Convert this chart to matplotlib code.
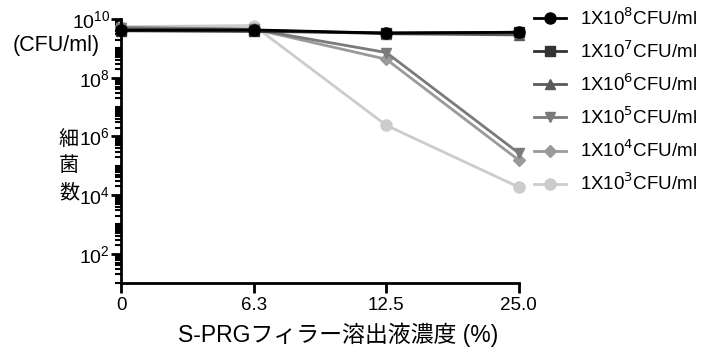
import numpy as np
import matplotlib.pyplot as plt
from matplotlib.ticker import LogLocator, FixedLocator, NullFormatter

plt.rcParams['font.family'] = ['Liberation Sans', 'Noto Sans CJK JP', 'DejaVu Sans']

concentrations = ['0', '6.3', '12.5', '25.0']
series_labels = ['1X10$^{8}$CFU/ml', '1X10$^{7}$CFU/ml', '1X10$^{6}$CFU/ml',
                 '1X10$^{5}$CFU/ml', '1X10$^{4}$CFU/ml', '1X10$^{3}$CFU/ml']
# log10 of CFU/ml
log_cfu_1e8 = [9.62, 9.63, 9.52, 9.55]
log_cfu_1e7 = [9.60, 9.58, 9.53, 9.55]
log_cfu_1e6 = [9.66, 9.62, 9.50, 9.46]
log_cfu_1e5 = [9.70, 9.65, 8.86, 5.43]
log_cfu_1e4 = [9.72, 9.66, 8.63, 5.19]
log_cfu_1e3 = [9.74, 9.78, 6.38, 4.27]

series = [log_cfu_1e8, log_cfu_1e7, log_cfu_1e6, log_cfu_1e5, log_cfu_1e4, log_cfu_1e3]
colors = ['#000000', '#333333', '#5a5a5a', '#7a7a7a', '#9a9a9a', '#cccccc']
markers = ['o', 's', '^', 'v', 'D', 'o']
sizes = [8, 7.5, 7, 7, 6, 8]

fig = plt.figure(figsize=(7.04, 3.53), dpi=100)
ax = fig.add_axes([0.172, 0.198, 0.565, 0.748])

x = np.arange(len(concentrations))
# draw lightest first so dark series stay on top
for i in reversed(range(len(series))):
    ax.plot(x, 10 ** np.array(series[i]), color=colors[i], marker=markers[i],
            markersize=sizes[i], linewidth=2, label=series_labels[i], clip_on=False)

ax.set_yscale('log')
ax.set_ylim(10, 1e10)
ax.set_xlim(0, 3)
ax.set_xticks(x)
ax.set_xticklabels(concentrations, fontsize=13.5)

ax.yaxis.set_major_locator(FixedLocator([1e2, 1e4, 1e6, 1e8, 1e10]))
ax.yaxis.set_minor_locator(LogLocator(base=10, subs=np.arange(1, 10), numticks=100))
ax.yaxis.set_minor_formatter(NullFormatter())
ax.tick_params(axis='y', which='major', length=7, width=2, labelsize=14, pad=1)
ax.tick_params(axis='y', which='minor', length=4, width=1.5)
ax.tick_params(axis='x', which='major', length=7, width=2, pad=3)

for side in ['top', 'right']:
    ax.spines[side].set_visible(False)
for side in ['left', 'bottom']:
    ax.spines[side].set_linewidth(2)

ax.set_xlabel('S-PRGフィラー溶出液濃度 (%)', fontsize=16.5)
ax.xaxis.set_label_coords(0.545, -0.15)
fig.text(0.018, 0.872, '(CFU/ml)', fontsize=15.5, ha='left', va='center')
fig.text(0.098, 0.53, '細\n菌\n数', fontsize=14.5, ha='center', va='center',
         linespacing=1.35, family=['Noto Sans CJK JP', 'DejaVu Sans'])

handles, labels = ax.get_legend_handles_labels()
ax.legend(handles[::-1], labels[::-1], loc='upper left', bbox_to_anchor=(1.005, 1.095),
          frameon=False, fontsize=13.5, labelspacing=0.62, handlelength=1.7,
          handletextpad=0.75, borderaxespad=0.3)

fig.savefig('out.png', dpi=100)
